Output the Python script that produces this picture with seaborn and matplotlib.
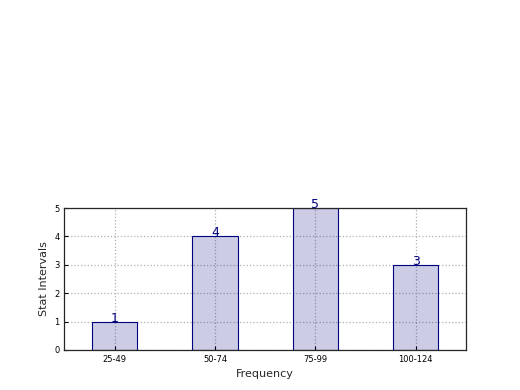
import pandas as pd
import matplotlib
matplotlib.use("Agg")
import matplotlib.pyplot as plt
import seaborn as sns

intervals = ['25-49', '50-74', '75-99', '100-124']
counts = [1, 4, 5, 3]

df = pd.DataFrame({'Interval': intervals, 'Count': counts})

sns.set_style("ticks")
plt.rcParams['font.family'] = ['DejaVu Sans']

fig = plt.figure(figsize=(5.2, 3.9), dpi=100)
ax = fig.add_axes([0.124, 0.1026, 0.772, 0.364])
sns.barplot(data=df, x='Interval', y='Count', color='navy', saturation=1,
            edgecolor='navy', linewidth=0.8, width=0.45, ax=ax)
# translucent fill, solid edge, drawn above the grid
for p in ax.patches:
    p.set_facecolor((0, 0, 0.5, 0.2))
    p.set_edgecolor('navy')
    p.set_zorder(2)

# value labels above the bars
for i, c in enumerate(counts):
    ax.text(i, c, str(c), ha='center', va='baseline', color='navy', fontsize=9)

ax.set_xlim(-0.5, 3.5)
ax.set_ylim(0, 5)
ax.set_yticks(range(6))
ax.grid(True, linestyle=':', color='#b0b0b0', linewidth=0.9)
ax.set_axisbelow('line')
ax.tick_params(direction='in', labelsize=6, length=3, colors='black')
for s in ax.spines.values():
    s.set_visible(True)
    s.set_linewidth(0.9)
    s.set_zorder(3)
ax.set_xlabel('Frequency', fontsize=8)
ax.set_ylabel('Stat Intervals', fontsize=8)

plt.savefig('out.png', dpi=100)
